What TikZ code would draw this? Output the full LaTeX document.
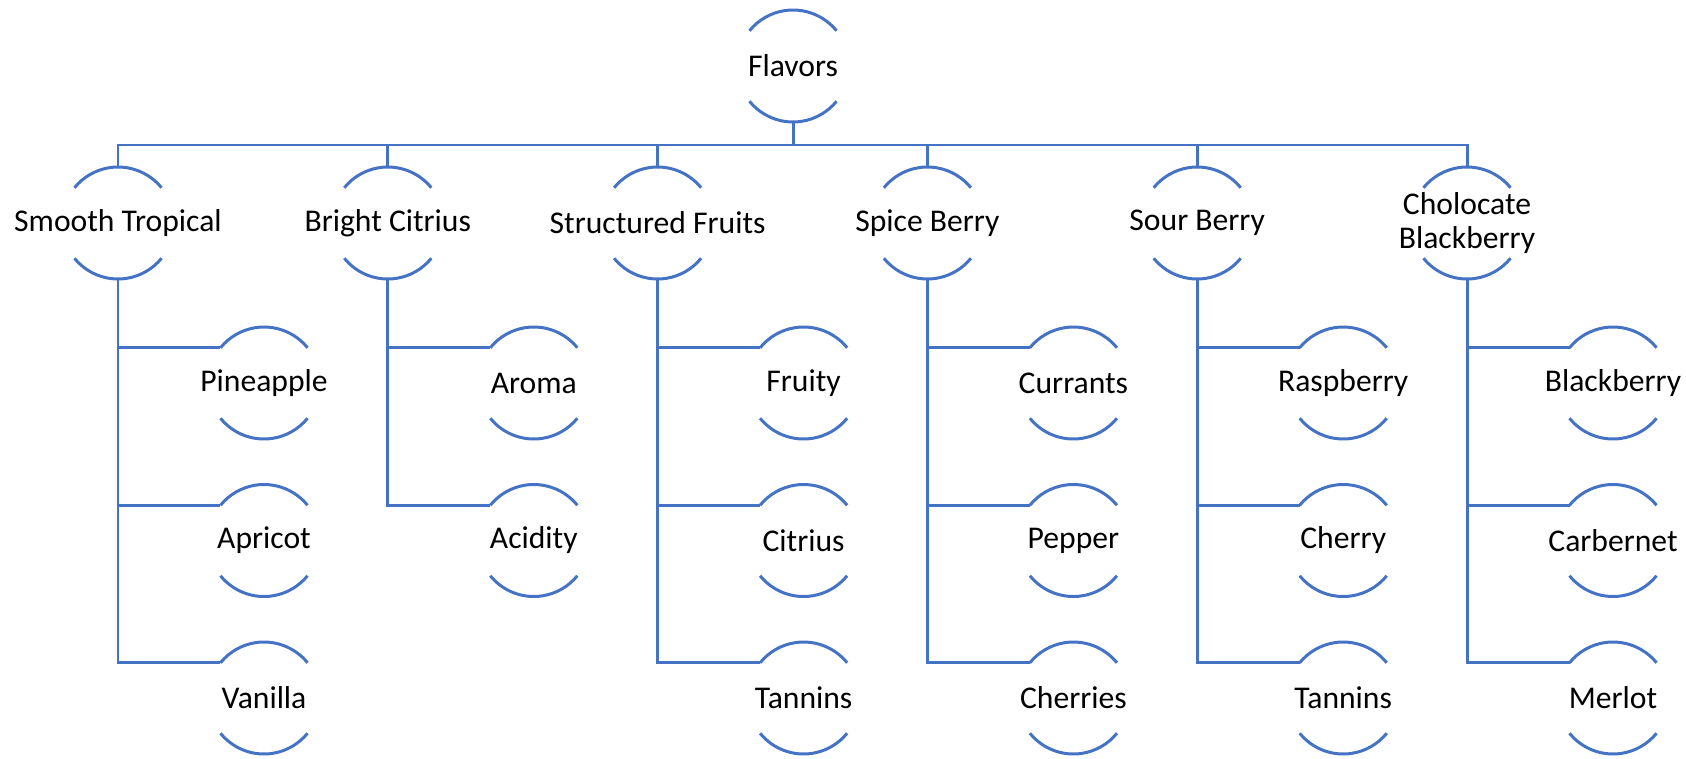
\documentclass[tikz,border=0pt]{standalone}
\usepackage{fontspec}
\setmainfont{Carlito}
\usepackage{tikz}
\usetikzlibrary{positioning}
\definecolor{ringblue}{HTML}{4472C4}

\tikzset{
  ring/.style={circle, minimum size=1.12cm, inner sep=0pt, outer sep=0pt},
  wire/.style={draw=ringblue, line width=0.85pt},
  tag/.style={font=\fontsize{9}{9.7}\selectfont, align=center, inner sep=0pt}
}
% top and bottom arcs of a ring node
\newcommand{\ringarcs}[1]{%
  \draw[wire] (#1.39) arc[start angle=39, end angle=141, radius=0.56cm]
              (#1.219) arc[start angle=219, end angle=321, radius=0.56cm];}

\begin{document}
\begin{tikzpicture}
  \useasboundingbox (0,0) rectangle (16.86,7.58);

  % Root
  \node[ring, label={[tag]center:Flavors}] (root) at (7.93, 6.92) {};
  \ringarcs{root}
  \coordinate (bus) at (7.93, 6.13);
  \draw[wire] (root.south) -- (bus);

  % Flavor groups and their members
  \foreach \i/\p/\txt/\kids in {
    0/st/Smooth Tropical/{Pineapple,Apricot,Vanilla},
    1/bc/Bright Citrius/{Aroma,Acidity},
    2/sf/Structured Fruits/{Fruity,Citrius,Tannins},
    3/sb/Spice Berry/{Currants,Pepper,Cherries},
    4/so/Sour Berry/{Raspberry,Cherry,Tannins},
    5/cb/Cholocate\\Blackberry/{Blackberry,Carbernet,Merlot}} {
    \pgfmathsetmacro{\px}{1.18+\i*2.698}
    \node[ring, label={[tag]center:\txt}] (\p) at (\px, 5.35) {};
    \ringarcs{\p}
    \draw[wire] (bus) -| (\p.north);

    % Members - stacked to the right below the group
    \foreach \kid [count=\j] in \kids {
      \node[ring, label={[tag]center:\kid}] (\p-\j) at (\px+1.46, 5.325-\j*1.575) {};
      \ringarcs{\p-\j}
      \draw[wire] (\p.south) |- (\p-\j.141);
    }
  }
\end{tikzpicture}
\end{document}
